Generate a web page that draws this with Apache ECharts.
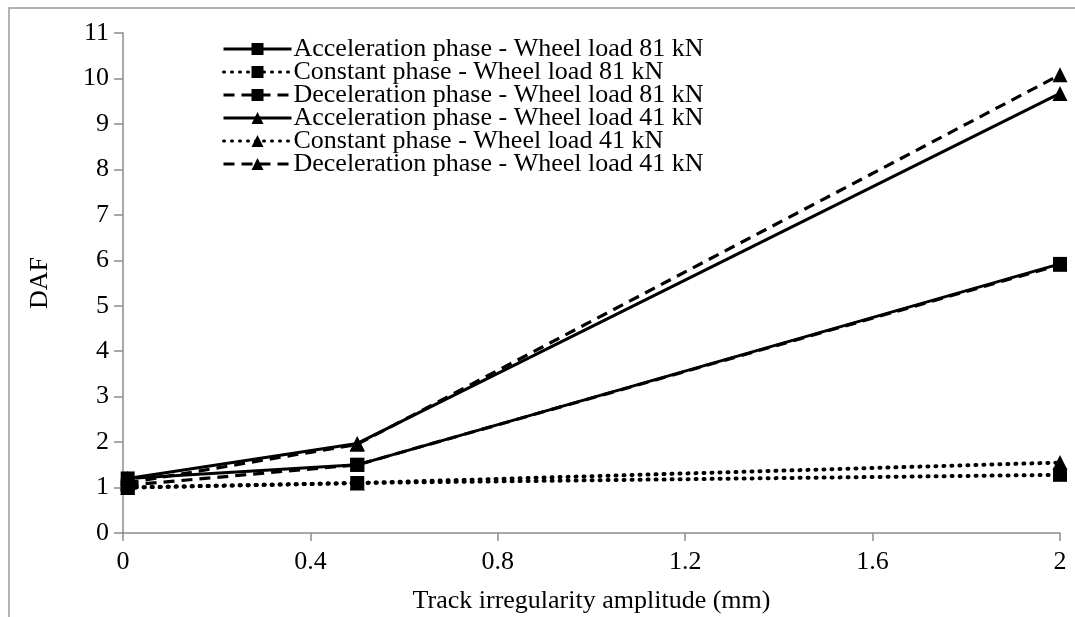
<!DOCTYPE html>
<html>
<head>
<meta charset="utf-8">
<title>DAF vs track irregularity amplitude</title>
<script src="https://cdn.jsdelivr.net/npm/echarts@6/dist/echarts.min.js"></script>
<style>
  html, body { margin: 0; padding: 0; background: #fff; }
  #main { width: 1075px; height: 617px; }
</style>
</head>
<body>
<div id="main"></div>
<script>
// track irregularity amplitude (mm)
var amplitudes = [0.01, 0.5, 2];

// DAF values, wheel load 81 kN
var accel81 = [1.2, 1.5, 5.92];
var const81 = [1.0, 1.1, 1.28];
var decel81 = [1.05, 1.5, 5.9];

// DAF values, wheel load 41 kN
var accel41 = [1.2, 1.97, 9.67];
var const41 = [1.0, 1.1, 1.55];
var decel41 = [1.1, 1.95, 10.08];

var seriesNames = [
  'Acceleration phase - Wheel load 81 kN',
  'Constant phase - Wheel load 81 kN',
  'Deceleration phase - Wheel load 81 kN',
  'Acceleration phase - Wheel load 41 kN',
  'Constant phase - Wheel load 41 kN',
  'Deceleration phase - Wheel load 41 kN'
];

var font = '"Liberation Serif", "Times New Roman", serif';
var axisGrey = '#8c8c8c';

function pairs(ys) {
  var out = [];
  for (var i = 0; i < amplitudes.length; i++) {
    out.push([amplitudes[i], ys[i]]);
  }
  return out;
}

function makeSeries(name, ys, symbol, dash) {
  var lineStyle = { color: '#000', width: 3, type: 'solid' };
  if (dash === 'dotted') {
    lineStyle.type = [1, 7];
    lineStyle.cap = 'round';
    lineStyle.width = 4;
  } else if (dash === 'dashed') {
    lineStyle.type = [11, 7];
    lineStyle.width = 3.2;
  }
  return {
    name: name,
    type: 'line',
    data: pairs(ys),
    symbol: symbol,
    symbolSize: symbol === 'rect' ? 14 : 15,
    showAllSymbol: true,
    itemStyle: { color: '#000' },
    lineStyle: lineStyle,
    emphasis: { disabled: true },
    animation: false
  };
}

var chart = echarts.init(document.getElementById('main'));
chart.setOption({
  backgroundColor: '#fff',
  graphic: [{
    type: 'rect',
    shape: { x: 9, y: 8, width: 1200, height: 800 },
    style: { fill: 'none', stroke: '#9a9a9a', lineWidth: 1.5 },
    silent: true
  }],
  legend: {
    orient: 'vertical',
    left: 222,
    top: 36,
    padding: 0,
    itemWidth: 68,
    itemHeight: 15,
    itemGap: -3,
    lineStyle: { width: 3 },
    textStyle: { fontFamily: font, fontSize: 26, color: '#000', lineHeight: 23, padding: [0, 0, 0, -3] },
    data: seriesNames
  },
  grid: {
    left: 123,
    right: 15,
    top: 33,
    bottom: 84,
    outerBoundsMode: 'none'
  },
  xAxis: {
    type: 'value',
    min: 0,
    max: 2,
    interval: 0.4,
    name: 'Track irregularity amplitude (mm)',
    nameLocation: 'middle',
    nameGap: 55,
    nameTextStyle: { fontFamily: font, fontSize: 26, color: '#000' },
    axisLine: { lineStyle: { color: axisGrey, width: 1.5 } },
    axisTick: { show: true, length: 8, lineStyle: { color: axisGrey, width: 1.5 } },
    axisLabel: { fontFamily: font, fontSize: 26, color: '#000', margin: 16 },
    splitLine: { show: false }
  },
  yAxis: {
    type: 'value',
    min: 0,
    max: 11,
    interval: 1,
    name: 'DAF',
    nameLocation: 'middle',
    nameGap: 70,
    nameTextStyle: { fontFamily: font, fontSize: 26, color: '#000' },
    axisLine: { show: true, lineStyle: { color: axisGrey, width: 1.5 } },
    axisTick: { show: true, length: 9, lineStyle: { color: axisGrey, width: 1.5 } },
    axisLabel: { fontFamily: font, fontSize: 26, color: '#000', margin: 14 },
    splitLine: { show: false }
  },
  series: [
    makeSeries(seriesNames[0], accel81, 'rect', 'solid'),
    makeSeries(seriesNames[1], const81, 'rect', 'dotted'),
    makeSeries(seriesNames[2], decel81, 'rect', 'dashed'),
    makeSeries(seriesNames[3], accel41, 'triangle', 'solid'),
    makeSeries(seriesNames[4], const41, 'triangle', 'dotted'),
    makeSeries(seriesNames[5], decel41, 'triangle', 'dashed')
  ]
});
</script>
</body>
</html>
